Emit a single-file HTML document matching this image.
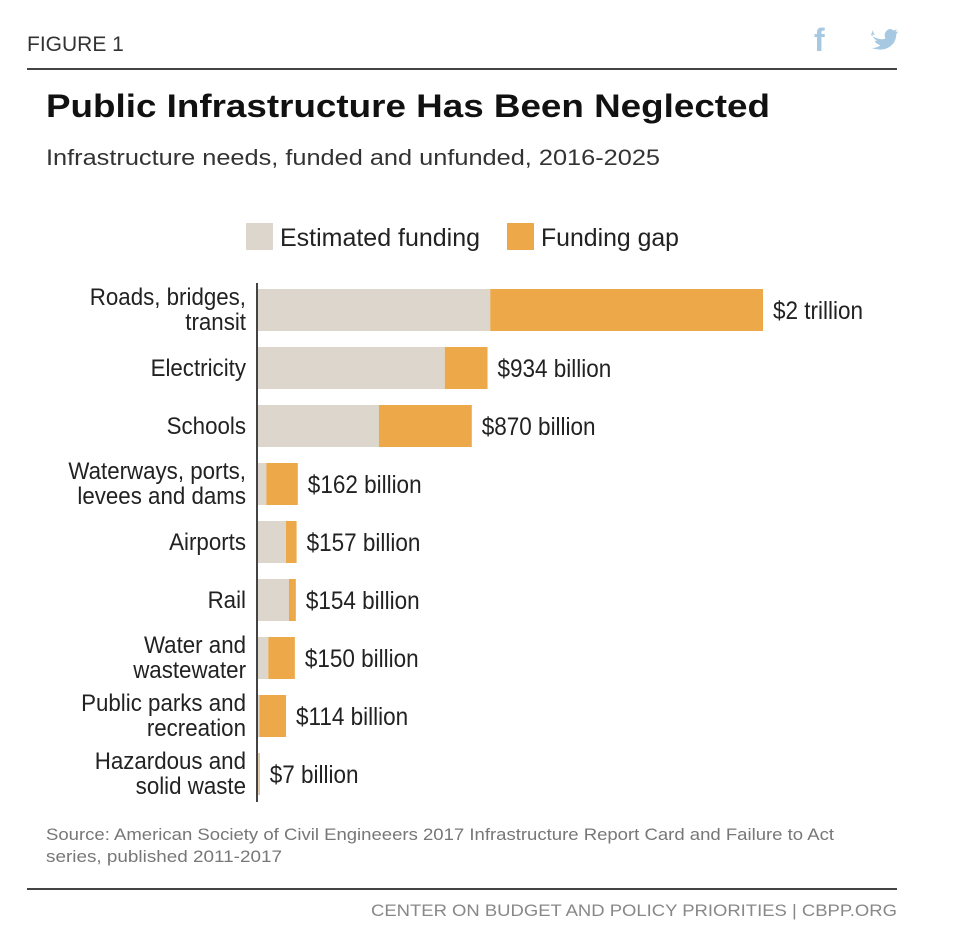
<!DOCTYPE html>
<html><head><meta charset="utf-8">
<style>
body{margin:0;background:#fff;width:957px;height:944px;overflow:hidden;font-family:"Liberation Sans",sans-serif;}
svg{display:block}
</style></head>
<body>
<svg width="957" height="944" xmlns="http://www.w3.org/2000/svg">
<text x="27" y="51" font-size="21" fill="#333">FIGURE 1</text>
<text x="814" y="51" font-size="32" font-weight="bold" fill="#a6c8e0">f</text>
<path d="M0 0 q10 8 20 5 q-3-8 3-12 q5-3 8 1 l5-2-2 4 4-1-3 4 q0 14-14 20 q-10 3-20-1 q8 0 12-4 q-6-1-8-6 h4 q-7-3-7-9 q2 1 4 1 q-5-4-2-10z" fill="#a6c8e0" transform="translate(871,35) scale(0.72)"/>
<line x1="27" y1="69" x2="897" y2="69" stroke="#444" stroke-width="2"/>
<text x="46" y="117" font-size="32" font-weight="bold" fill="#111" textLength="724" lengthAdjust="spacingAndGlyphs">Public Infrastructure Has Been Neglected</text>
<text x="46" y="165" font-size="22" fill="#333" textLength="614" lengthAdjust="spacingAndGlyphs">Infrastructure needs, funded and unfunded, 2016-2025</text>
<g>
<rect x="246" y="223" width="27" height="27" fill="#dcd6cc"/>
<text x="280" y="246" font-size="25" fill="#222" textLength="200" lengthAdjust="spacingAndGlyphs">Estimated funding</text>
<rect x="507" y="223" width="27" height="27" fill="#eda84a"/>
<text x="541" y="246" font-size="25" fill="#222" textLength="138" lengthAdjust="spacingAndGlyphs">Funding gap</text>
</g>
<g id="bars"></g>
<line x1="257" y1="283" x2="257" y2="802" stroke="#444" stroke-width="2"/>
<text x="46" y="840" font-size="17" fill="#777" textLength="788" lengthAdjust="spacingAndGlyphs">Source: American Society of Civil Engineeers 2017 Infrastructure Report Card and Failure to Act</text>
<text x="46" y="862" font-size="17" fill="#777" textLength="236" lengthAdjust="spacingAndGlyphs">series, published 2011-2017</text>
<line x1="27" y1="889" x2="897" y2="889" stroke="#444" stroke-width="2"/>
<text x="897" y="916" font-size="17" fill="#888" text-anchor="end" textLength="526" lengthAdjust="spacingAndGlyphs">CENTER ON BUDGET AND POLICY PRIORITIES | CBPP.ORG</text>
</svg>
<script>
const categories=[["Roads, bridges,","transit"],["Electricity"],["Schools"],["Waterways, ports,","levees and dams"],["Airports"],["Rail"],["Water and","wastewater"],["Public parks and","recreation"],["Hazardous and","solid waste"]];
const funded=[945,760,492,34,114,126,42,6,3];
const gap=[1110,174,378,128,43,28,108,108,4];
const valueLabels=["$2 trillion","$934 billion","$870 billion","$162 billion","$157 billion","$154 billion","$150 billion","$114 billion","$7 billion"];
const NS="http://www.w3.org/2000/svg";
const g=document.getElementById('bars');
const x0=258, pxPer=505/2055, y0=289, step=58, bh=42;
const xs=v=>x0+v*pxPer;
function mk(t,a){const e=document.createElementNS(NS,t);for(const k in a)e.setAttribute(k,a[k]);g.appendChild(e);return e;}
categories.forEach((c,i)=>{
  const y=y0+i*step;
  const r1=mk('rect',{x:x0,y:y,width:xs(funded[i])-x0,height:bh,fill:'#dcd6cc'});
  
  
  const r2=mk('rect',{x:xs(funded[i]),y:y,width:xs(funded[i]+gap[i])-xs(funded[i]),height:bh,fill:'#eda84a'});
  
  
  const vx=xs(funded[i]+gap[i])+10, vy=y+bh/2+9;
  const v=mk('text',{x:0,y:0,'font-size':25,fill:'#222',transform:'translate('+vx+','+vy+') scale(0.9,1)'});
  v.textContent=valueLabels[i];
  
  
  c.forEach((line,j)=>{
    const ty=c.length===1?y+bh/2+8:y+bh/2-5+j*25;
    const t=mk('text',{x:0,y:0,'font-size':24,fill:'#222','text-anchor':'end',transform:'translate(246,'+ty+') scale(0.93,1)'});
    t.textContent=line;
    
    
  });
});
</script>
</body></html>
